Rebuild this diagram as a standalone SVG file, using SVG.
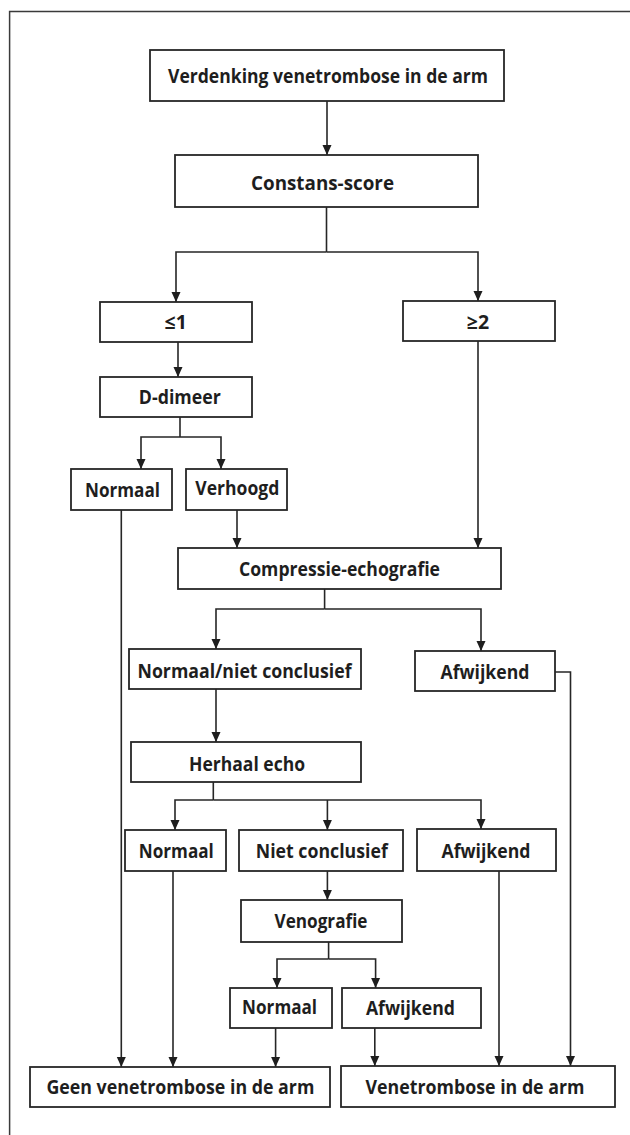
<svg xmlns="http://www.w3.org/2000/svg" width="630" height="1135" viewBox="0 0 630 1135">
<style>
.box{fill:#fff;stroke:#262626;stroke-width:1.8}
.lbl{font-family:"Open Sans","Liberation Sans",sans-serif;font-weight:700;font-size:19.5px;fill:#1e1e1e;text-anchor:middle}
.ln{fill:none;stroke:#262626;stroke-width:1.6}
.frame{fill:none;stroke:#3a3a3a;stroke-width:1.5}
</style>
<defs>
<marker id="ah" markerUnits="userSpaceOnUse" markerWidth="10" markerHeight="10" viewBox="0 0 10 9" refX="10" refY="4.5" orient="auto">
<path d="M0,0 L10,4.5 L0,9 z" fill="#1e1e1e"/>
</marker>
</defs>
<rect width="630" height="1135" fill="#fff"/>
<path class="frame" d="M9.6,1135 V11.5 H630"/>
<g id="connectors">
<path class="ln" d="M327,101 V155" marker-end="url(#ah)"/>
<path class="ln" d="M326.5,207 V252"/>
<path class="ln" d="M326.5,252 H176 V302" marker-end="url(#ah)"/>
<path class="ln" d="M326.5,252 H478 V301" marker-end="url(#ah)"/>
<path class="ln" d="M178,342 V377" marker-end="url(#ah)"/>
<path class="ln" d="M180,417 V437"/>
<path class="ln" d="M180,437 H141 V469" marker-end="url(#ah)"/>
<path class="ln" d="M180,437 H221 V469" marker-end="url(#ah)"/>
<path class="ln" d="M121.3,510 V1067" marker-end="url(#ah)"/>
<path class="ln" d="M237,510 V548" marker-end="url(#ah)"/>
<path class="ln" d="M478,341 V548" marker-end="url(#ah)"/>
<path class="ln" d="M324.6,589 V609"/>
<path class="ln" d="M324.6,609 H216 V649" marker-end="url(#ah)"/>
<path class="ln" d="M324.6,609 H481 V651" marker-end="url(#ah)"/>
<path class="ln" d="M555,672 H570.5 V1066" marker-end="url(#ah)"/>
<path class="ln" d="M216,689 V742" marker-end="url(#ah)"/>
<path class="ln" d="M213.3,782 V800"/>
<path class="ln" d="M213.3,800 H175 V830" marker-end="url(#ah)"/>
<path class="ln" d="M213.3,800 H481 V829" marker-end="url(#ah)"/>
<path class="ln" d="M327.4,800 V830" marker-end="url(#ah)"/>
<path class="ln" d="M173,871 V1067" marker-end="url(#ah)"/>
<path class="ln" d="M499,871 V1066" marker-end="url(#ah)"/>
<path class="ln" d="M327.4,871 V900" marker-end="url(#ah)"/>
<path class="ln" d="M328.6,942 V959"/>
<path class="ln" d="M328.6,959 H277 V988" marker-end="url(#ah)"/>
<path class="ln" d="M328.6,959 H375.6 V988" marker-end="url(#ah)"/>
<path class="ln" d="M275.6,1028 V1067" marker-end="url(#ah)"/>
<path class="ln" d="M374.8,1028 V1066" marker-end="url(#ah)"/>
</g>
<g id="n1"><rect class="box" x="150" y="50" width="354" height="51"/><text class="lbl" x="328" y="83.3" textLength="320" lengthAdjust="spacingAndGlyphs">Verdenking venetrombose in de arm</text></g>
<g id="n2"><rect class="box" x="175" y="155" width="303" height="52"/><text class="lbl" x="322.5" y="189.5" textLength="143" lengthAdjust="spacingAndGlyphs">Constans-score</text></g>
<g id="n3"><rect class="box" x="100" y="302" width="152" height="40"/><text class="lbl" x="175.7" y="329">≤1</text></g>
<g id="n4"><rect class="box" x="403" y="301" width="152" height="40"/><text class="lbl" x="478" y="328.5">≥2</text></g>
<g id="n5"><rect class="box" x="100" y="377" width="152" height="40"/><text class="lbl" x="179.8" y="403.5" textLength="82" lengthAdjust="spacingAndGlyphs">D-dimeer</text></g>
<g id="n6"><rect class="box" x="71" y="469" width="101" height="41"/><text class="lbl" x="122.5" y="497.3" textLength="75" lengthAdjust="spacingAndGlyphs">Normaal</text></g>
<g id="n7"><rect class="box" x="186" y="469" width="101" height="41"/><text class="lbl" x="237.3" y="495" textLength="84" lengthAdjust="spacingAndGlyphs">Verhoogd</text></g>
<g id="n8"><rect class="box" x="178" y="548" width="323" height="41"/><text class="lbl" x="339.5" y="575.5" textLength="201" lengthAdjust="spacingAndGlyphs">Compressie-echografie</text></g>
<g id="n9"><rect class="box" x="129" y="649" width="232" height="40"/><text class="lbl" x="244.5" y="677.5" textLength="214" lengthAdjust="spacingAndGlyphs">Normaal/niet conclusief</text></g>
<g id="n10"><rect class="box" x="415" y="651" width="140" height="40"/><text class="lbl" x="485" y="678.5" textLength="89" lengthAdjust="spacingAndGlyphs">Afwijkend</text></g>
<g id="n11"><rect class="box" x="131" y="742" width="230" height="40"/><text class="lbl" x="247" y="771" textLength="116" lengthAdjust="spacingAndGlyphs">Herhaal echo</text></g>
<g id="n12"><rect class="box" x="125" y="830" width="101" height="41"/><text class="lbl" x="176.3" y="858" textLength="75" lengthAdjust="spacingAndGlyphs">Normaal</text></g>
<g id="n13"><rect class="box" x="239" y="830" width="164" height="41"/><text class="lbl" x="321.8" y="858" textLength="132" lengthAdjust="spacingAndGlyphs">Niet conclusief</text></g>
<g id="n14"><rect class="box" x="417" y="829" width="139" height="42"/><text class="lbl" x="486" y="858" textLength="89" lengthAdjust="spacingAndGlyphs">Afwijkend</text></g>
<g id="n15"><rect class="box" x="241" y="900" width="161" height="42"/><text class="lbl" x="321" y="927.5" textLength="93" lengthAdjust="spacingAndGlyphs">Venografie</text></g>
<g id="n16"><rect class="box" x="230" y="988" width="102" height="40"/><text class="lbl" x="279.6" y="1014" textLength="75" lengthAdjust="spacingAndGlyphs">Normaal</text></g>
<g id="n17"><rect class="box" x="342" y="988" width="139" height="40"/><text class="lbl" x="410.4" y="1014.5" textLength="89" lengthAdjust="spacingAndGlyphs">Afwijkend</text></g>
<g id="n18"><rect class="box" x="30" y="1067" width="300" height="40"/><text class="lbl" x="180.4" y="1093.5" textLength="268" lengthAdjust="spacingAndGlyphs">Geen venetrombose in de arm</text></g>
<g id="n19"><rect class="box" x="341" y="1066" width="274" height="41"/><text class="lbl" x="475" y="1093.5" textLength="219" lengthAdjust="spacingAndGlyphs">Venetrombose in de arm</text></g>
</svg>
